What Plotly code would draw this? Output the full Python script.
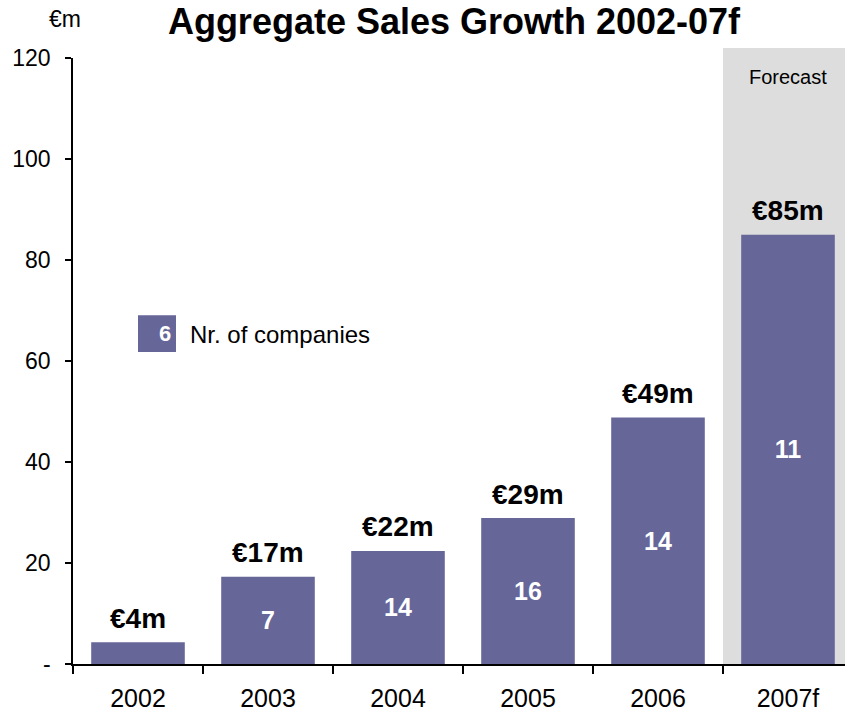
import plotly.graph_objects as go

years = ["2002", "2003", "2004", "2005", "2006", "2007f"]
sales = [4.3, 17.3, 22.4, 28.9, 48.8, 85.0]
sales_labels = ["€4m", "€17m", "€22m", "€29m", "€49m", "€85m"]
companies = ["", "7", "14", "16", "14", "11"]
y_ticks = [0, 20, 40, 60, 80, 100, 120]
y_tick_text = ["-", "20", "40", "60", "80", "100", "120"]

FONT = "Liberation Sans, Arial, sans-serif"
BAR = "#666699"
W, H = 845, 712
ML, MR, MT, MB = 73, 0, 58, 46
cat_px = 130
plot_w = W - ML - MR
ph = H - MT - MB
x_end = -0.5 + plot_w / cat_px

fig = go.Figure()
fig.add_trace(go.Bar(
    x=years, y=sales, width=0.72, marker=dict(color=BAR, line=dict(width=0)),
    text=companies, textposition="inside", insidetextanchor="middle",
    textangle=0, constraintext="none",
    textfont=dict(family=FONT, size=25, color="white", weight="bold"),
    hoverinfo="skip",
))

# forecast band
fig.add_shape(type="rect", xref="x", yref="paper", x0=4.5, x1=x_end, y0=0, y1=1.0165,
              fillcolor="#dddddd", line=dict(width=0), layer="below")

annotations = []
for i, (v, lab) in enumerate(zip(sales, sales_labels)):
    annotations.append(dict(x=i, y=v, xref="x", yref="y", text=lab, showarrow=False,
                            yanchor="middle", yshift=24,
                            font=dict(family=FONT, size=28, color="black", weight="bold")))

annotations += [
    dict(x=len(years) - 1, y=(H - MB - 77) / ph, xref="x", yref="paper", text="Forecast",
         showarrow=False, yanchor="middle",
         font=dict(family=FONT, size=20, color="black")),
    dict(x=(47 - ML) / plot_w, y=(H - MB - 19) / ph, xref="paper", yref="paper",
         text="€m", showarrow=False, yanchor="middle",
         font=dict(family=FONT, size=23, color="black")),
    dict(x=(157 - ML) / plot_w, y=(H - MB - 334.5) / ph, xref="paper", yref="paper",
         text="6", showarrow=False, yanchor="middle",
         font=dict(family=FONT, size=22, color="white", weight="bold")),
    dict(x=(188 - ML) / plot_w, y=(H - MB - 335) / ph, xref="paper", yref="paper",
         text="Nr. of companies", showarrow=False, xanchor="left", yanchor="middle",
         font=dict(family=FONT, size=24, color="black")),
]

fig.add_shape(type="rect", xref="paper", yref="paper",
              x0=(138 - ML) / plot_w, x1=(176 - ML) / plot_w,
              y0=(H - MB - 353) / ph, y1=(H - MB - 316) / ph,
              fillcolor=BAR, line=dict(width=0))

fig.update_layout(
    width=W, height=H, margin=dict(l=ML, r=MR, t=MT, b=MB, pad=0),
    plot_bgcolor="white", paper_bgcolor="white",
    showlegend=False,
    title=dict(text="<b>Aggregate Sales Growth 2002-07f</b>", x=454 / W, xanchor="center",
               y=1 - 21 / H, yanchor="middle", yref="container",
               font=dict(family=FONT, size=36, color="black")),
    annotations=annotations,
    xaxis=dict(type="category", range=[-0.5, x_end], showgrid=False, zeroline=False,
               showline=True, linecolor="black", linewidth=1.5,
               ticks="outside", tickson="boundaries", ticklen=8, tickwidth=1.5, tickcolor="black",
               ticklabelstandoff=11,
               tickfont=dict(family=FONT, size=25, color="black")),
    yaxis=dict(range=[0, 120], tickvals=y_ticks, ticktext=y_tick_text, showgrid=False,
               zeroline=False, showline=True, linecolor="black", linewidth=1.5,
               ticks="outside", ticklen=6, tickwidth=1.5, tickcolor="black",
               ticklabelstandoff=10,
               tickfont=dict(family=FONT, size=23, color="black")),
)

fig.write_html("out.html", config={"displayModeBar": False},
               post_script="document.body.style.margin='0';document.body.style.padding='0';"
                           "document.body.style.overflow='hidden';")
